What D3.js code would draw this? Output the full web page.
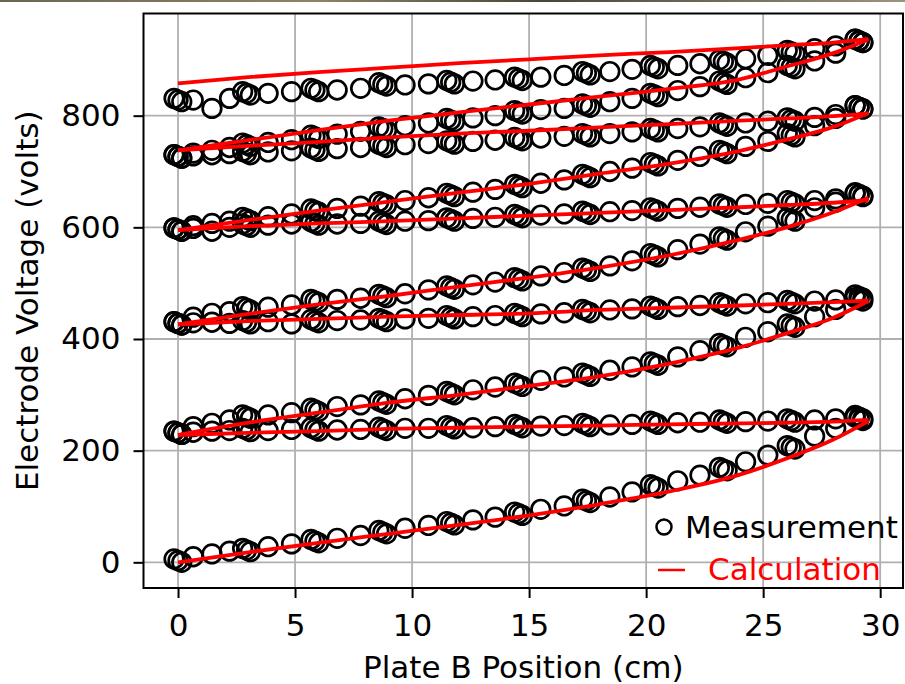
<!DOCTYPE html>
<html>
<head>
<meta charset="utf-8">
<script src="https://cdn.jsdelivr.net/npm/d3@7"></script>
<style>
  body { margin: 0; background: #fff; }
  svg { display: block; font-family: "DejaVu Sans", sans-serif; }
</style>
</head>
<body>
<svg id="vis"></svg>
<script>
// plate B position (cm) of each measurement step
const positions = [0, 0.65, 1.45, 2.2, 2.93, 3.85, 4.85, 5.85, 6.8, 7.8, 8.75, 9.7, 10.7,
    11.65, 12.6, 13.55, 14.55, 15.5, 16.5, 17.45, 18.45, 19.4, 20.35, 21.35, 22.3,
    23.3, 24.25, 25.2, 26.2, 27.2, 28.1, 29.1];
// steps that were measured several times, and the spread of the repeats
const repeatSteps = [0, 4, 7, 10, 13, 16, 19, 22, 25, 28, 31];
const repeatDx = [-0.17, 0.16];
const repeatDv = [3, -3];

// measured electrode voltages (volts), one list per electrode
const meas1 = [3, 10, 15, 20, 22, 28, 33, 38, 43, 48, 54, 61, 66, 70, 76, 81, 87, 95, 101,
    110, 117, 126, 136, 146, 156, 167, 180, 192, 206, 226, 240, 257];
const meas2 = [232, 233, 235, 236, 237, 236, 238, 238, 237, 238, 239, 240, 240, 242, 241,
    243, 244, 244, 245, 246, 246, 247, 250, 250, 251, 252, 252, 253, 254, 255, 257, 260];
const meas3 = [232, 243, 249, 255, 261, 264, 268, 273, 279, 282, 286, 293, 299, 303, 309,
    314, 318, 326, 332, 336, 344, 350, 356, 368, 379, 389, 403, 413, 424, 440, 453, 471];
const meas4 = [428, 429, 430, 428, 430, 431, 427, 432, 433, 434, 434, 436, 437, 439, 440,
    442, 443, 445, 447, 450, 452, 454, 456, 458, 460, 462, 463, 465, 466, 468, 470, 476];
const meas5 = [428, 439, 446, 449, 455, 457, 461, 468, 471, 473, 477, 481, 488, 492, 497,
    502, 507, 513, 519, 524, 531, 540, 550, 560, 570, 580, 592, 602, 614, 635, 645, 658];
const meas6 = [596, 598, 593, 600, 603, 604, 606, 607, 606, 607, 608, 611, 612, 614, 616,
    618, 620, 622, 624, 626, 628, 630, 632, 634, 636, 639, 641, 643, 645, 648, 651, 659];
const meas7 = [596, 603, 607, 611, 615, 619, 624, 630, 634, 638, 643, 648, 653, 658, 663,
    668, 674, 679, 685, 692, 700, 706, 713, 720, 727, 735, 745, 754, 765, 782, 795, 815];
const meas8 = [727, 728, 730, 732, 733, 735, 737, 739, 741, 743, 746, 748, 750, 752, 754,
    756, 758, 760, 763, 765, 768, 771, 774, 777, 780, 784, 787, 790, 793, 797, 802, 815];
const meas9 = [727, 733, 738, 743, 748, 752, 757, 762, 767, 772, 777, 782, 787, 792, 796,
    800, 806, 811, 813, 818, 825, 831, 837, 845, 852, 859, 868, 877, 887, 898, 912, 934];
const meas10 = [828, 828, 813, 831, 840, 840, 843, 846, 846, 849, 856, 855, 857, 860, 862,
    864, 866, 869, 872, 876, 879, 883, 887, 890, 893, 897, 902, 908, 914, 920, 925, 934];

// calculated electrode voltages (volts)
const calcPositions = [0, 3, 6, 9, 12, 15, 18, 21, 24, 26, 28, 29.5];
const calc1 = [0, 18, 35, 51, 67, 84, 104, 127, 157, 186, 220, 253];
const calc2 = [228, 232, 235, 239, 241, 243, 245, 247, 249, 250, 252, 255];
const calc3 = [228, 250, 268, 286, 300, 316, 333, 356, 385, 410, 438, 468];
const calc4 = [426, 432, 436, 440, 443, 446, 452, 456, 460, 463, 466, 469];
const calc5 = [426, 445, 462, 477, 494, 510, 528, 550, 578, 600, 627, 653];
const calc6 = [595, 602, 607, 611, 616, 621, 626, 631, 636, 640, 644, 649];
const calc7 = [595, 613, 630, 646, 662, 678, 696, 714, 737, 757, 780, 805];
const calc8 = [738, 746, 753, 761, 768, 773, 779, 785, 791, 795, 799, 804];
const calc9 = [738, 756, 774, 791, 806, 820, 834, 848, 865, 888, 912, 937];
const calc10 = [858, 869, 878, 886, 894, 901, 908, 914, 921, 926, 931, 937];

const xTicks = [0, 5, 10, 15, 20, 25, 30];
const yTicks = [0, 200, 400, 600, 800];

const measured = [meas1, meas2, meas3, meas4, meas5, meas6, meas7, meas8, meas9, meas10];
const calculated = [calc1, calc2, calc3, calc4, calc5, calc6, calc7, calc8, calc9, calc10];

const WIDTH = 905, HEIGHT = 684;
const plot = {left: 143.5, right: 903, top: 13.5, bottom: 588};
const FONT_SIZE = 31;
const MARKER_R = 9.3;

var svg = d3.select('#vis').attr('width', WIDTH).attr('height', HEIGHT);

var x = d3.scaleLinear().domain([-1.475, 30.975]).range([plot.left, plot.right]);
var y = d3.scaleLinear().domain([-46, 983]).range([plot.bottom, plot.top]);

// thin strip of photo left at the top edge of the screenshot
var grad = svg.append('defs').append('linearGradient').attr('id', 'strip');
[['0%', '#6b6650'], ['35%', '#8a8468'], ['60%', '#4a4636'], ['100%', '#9a9480']].forEach(function (s) {
    grad.append('stop').attr('offset', s[0]).attr('stop-color', s[1]);
});
svg.append('rect').attr('x', 0).attr('y', 0).attr('width', WIDTH).attr('height', 2)
    .attr('fill', 'url(#strip)');

// grid
var grid = svg.append('g');
xTicks.forEach(function (t) {
    grid.append('line').attr('x1', x(t)).attr('x2', x(t))
        .attr('y1', plot.top).attr('y2', plot.bottom)
        .attr('stroke', '#b0b0b0').attr('stroke-width', 1.8);
});
yTicks.forEach(function (t) {
    grid.append('line').attr('x1', plot.left).attr('x2', plot.right)
        .attr('y1', y(t)).attr('y2', y(t))
        .attr('stroke', '#b0b0b0').attr('stroke-width', 1.8);
});

// measurement circles
var marks = svg.append('g').attr('fill', 'none').attr('stroke', 'black').attr('stroke-width', 2.7);
measured.forEach(function (values) {
    values.forEach(function (v, i) {
        marks.append('circle').attr('cx', x(positions[i])).attr('cy', y(v)).attr('r', MARKER_R);
        if (repeatSteps.indexOf(i) >= 0) {
            repeatDx.forEach(function (dx, k) {
                marks.append('circle').attr('cx', x(positions[i] + dx))
                    .attr('cy', y(v + repeatDv[k])).attr('r', MARKER_R);
            });
        }
    });
});

// calculation lines
var line = d3.line()
    .x(function (d, i) { return x(calcPositions[i]); })
    .y(function (d) { return y(d); })
    .curve(d3.curveMonotoneX);
calculated.forEach(function (values) {
    svg.append('path').attr('d', line(values))
        .attr('fill', 'none').attr('stroke', 'red').attr('stroke-width', 3.8);
});

// frame
svg.append('rect').attr('x', plot.left).attr('y', plot.top)
    .attr('width', plot.right - plot.left).attr('height', plot.bottom - plot.top)
    .attr('fill', 'none').attr('stroke', 'black').attr('stroke-width', 2);

// axes
var xAxis = svg.append('g').attr('transform', 'translate(0,' + plot.bottom + ')')
    .call(d3.axisBottom(x).tickValues(xTicks).tickSize(10).tickPadding(16).tickFormat(d3.format('d')));
var yAxis = svg.append('g').attr('transform', 'translate(' + plot.left + ',0)')
    .call(d3.axisLeft(y).tickValues(yTicks).tickSize(10).tickPadding(13).tickFormat(d3.format('d')));
[xAxis, yAxis].forEach(function (a) {
    a.select('.domain').remove();
    a.selectAll('line').attr('stroke-width', 2);
    a.selectAll('text').attr('font-size', FONT_SIZE).attr('font-family', 'DejaVu Sans').attr('fill', 'black');
});

svg.append('text').attr('x', (plot.left + plot.right) / 2).attr('y', 678)
    .attr('text-anchor', 'middle').attr('font-size', FONT_SIZE)
    .text('Plate B Position (cm)');
svg.append('text').attr('transform', 'translate(38,' + (plot.top + plot.bottom) / 2 + ') rotate(-90)')
    .attr('text-anchor', 'middle').attr('font-size', FONT_SIZE)
    .text('Electrode Voltage (volts)');

// legend
var legend = svg.append('g');
legend.append('circle').attr('cx', 664).attr('cy', 527).attr('r', 7.5)
    .attr('fill', 'none').attr('stroke', 'black').attr('stroke-width', 2.5);
legend.append('text').attr('x', 685).attr('y', 538).attr('font-size', FONT_SIZE)
    .text('Measurement');
legend.append('line').attr('x1', 658).attr('x2', 685).attr('y1', 570).attr('y2', 570)
    .attr('stroke', 'red').attr('stroke-width', 2.5);
legend.append('text').attr('x', 708).attr('y', 580).attr('font-size', FONT_SIZE)
    .attr('fill', 'red').text('Calculation');
</script>
</body>
</html>
